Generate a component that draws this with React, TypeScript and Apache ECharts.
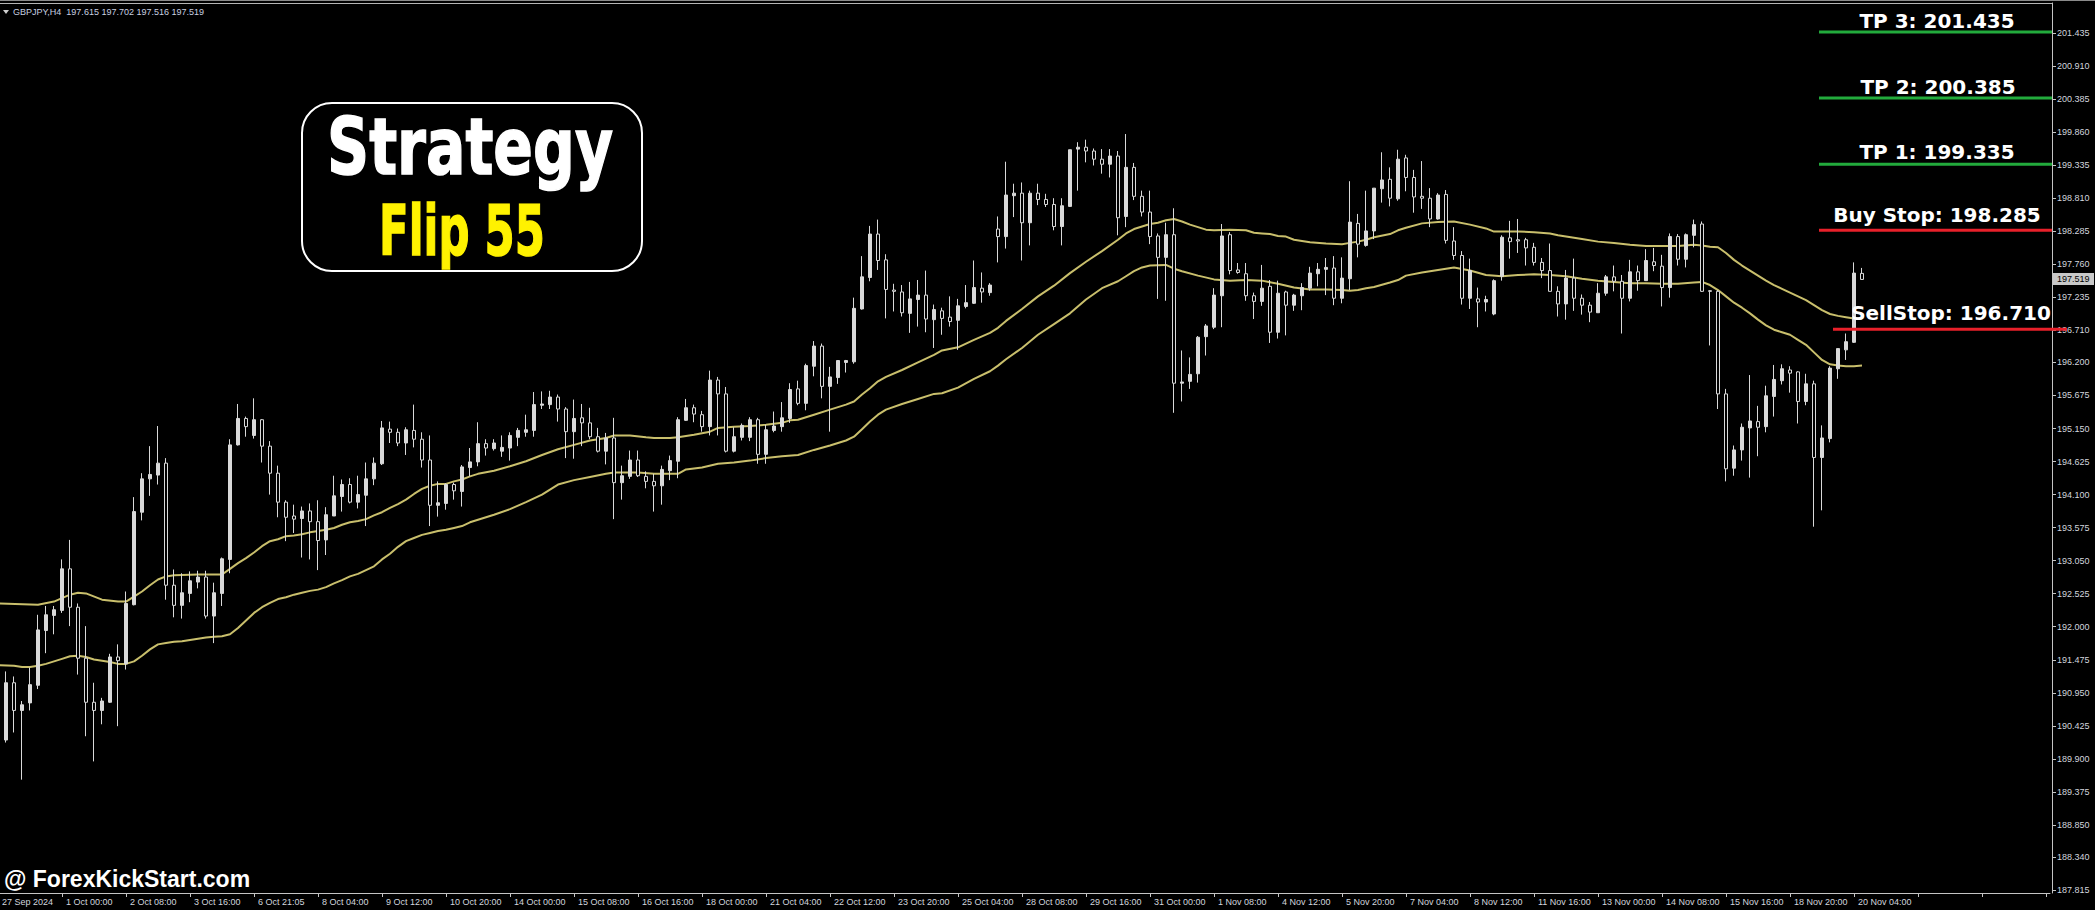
import React, { useEffect, useRef } from 'react';
import * as echarts from 'echarts';

const headerText = 'GBPJPY,H4  197.615 197.702 197.516 197.519';
const watermarkText = '@ ForexKickStart.com';
const titleLine1 = 'Strategy';
const titleLine2 = 'Flip 55';
const lastPrice = 197.519;

const xTickLabels = [
  '27 Sep 2024', '1 Oct 00:00', '2 Oct 08:00', '3 Oct 16:00', '6 Oct 21:05', '8 Oct 04:00',
  '9 Oct 12:00', '10 Oct 20:00', '14 Oct 00:00', '15 Oct 08:00', '16 Oct 16:00', '18 Oct 00:00',
  '21 Oct 04:00', '22 Oct 12:00', '23 Oct 20:00', '25 Oct 04:00', '28 Oct 08:00', '29 Oct 16:00',
  '31 Oct 00:00', '1 Nov 08:00', '4 Nov 12:00', '5 Nov 20:00', '7 Nov 04:00', '8 Nov 12:00',
  '11 Nov 16:00', '13 Nov 00:00', '14 Nov 08:00', '15 Nov 16:00', '18 Nov 20:00', '20 Nov 04:00',
];

const yTickValues = [
  201.435, 200.91, 200.385, 199.86, 199.335, 198.81, 198.285, 197.76, 197.235, 196.71, 196.2,
  195.675, 195.15, 194.625, 194.1, 193.575, 193.05, 192.525, 192.0, 191.475, 190.95, 190.425,
  189.9, 189.375, 188.85, 188.34, 187.815,
];

const levelNames = ['TP 3', 'TP 2', 'TP 1', 'Buy Stop', 'SellStop'];
const levelValues = [201.435, 200.385, 199.335, 198.285, 196.71];

// [open, high, low, close] per H4 bar
const ohlc: number[][] = [
  [190.10, 190.40, 189.95, 190.20], [190.20, 191.29, 190.16, 191.11], [191.11, 191.21, 190.32, 190.67],
  [190.67, 190.82, 189.57, 190.76], [190.79, 191.35, 190.67, 191.08], [191.07, 192.19, 191.01, 191.95],
  [191.94, 192.33, 191.58, 192.19], [192.18, 192.33, 191.88, 192.27], [192.26, 193.07, 192.22, 192.92],
  [192.92, 193.38, 192.01, 192.31], [192.31, 192.37, 191.24, 191.50], [191.50, 192.01, 190.26, 190.80],
  [190.80, 191.11, 189.86, 190.67], [190.67, 190.87, 190.45, 190.82], [190.80, 191.57, 190.79, 191.52],
  [191.52, 191.72, 190.42, 191.46], [191.41, 192.56, 191.32, 192.37], [192.35, 194.06, 192.34, 193.83],
  [193.82, 194.44, 193.69, 194.35], [194.35, 194.87, 194.08, 194.42], [194.41, 195.19, 194.26, 194.60],
  [194.60, 194.68, 192.43, 192.66], [192.66, 192.91, 192.15, 192.34], [192.34, 192.85, 192.13, 192.54],
  [192.53, 192.88, 192.39, 192.73], [192.71, 192.89, 192.61, 192.79], [192.79, 192.89, 192.13, 192.17],
  [192.17, 192.70, 191.74, 192.54], [192.53, 193.10, 192.33, 193.08], [193.07, 194.98, 192.85, 194.89],
  [194.89, 195.54, 194.88, 195.31], [195.31, 195.34, 195.02, 195.18], [195.04, 195.63, 194.99, 195.29],
  [195.29, 195.30, 194.61, 194.87], [194.87, 194.95, 194.10, 194.44], [194.44, 194.56, 193.74, 193.98],
  [193.98, 194.01, 193.36, 193.74], [193.76, 193.94, 193.49, 193.71], [193.72, 193.91, 193.10, 193.84],
  [193.84, 193.96, 193.07, 193.67], [193.67, 194.01, 192.90, 193.37], [193.38, 193.90, 193.14, 193.78],
  [193.76, 194.40, 193.76, 194.08], [194.07, 194.34, 193.83, 194.26], [194.26, 194.36, 193.96, 193.98],
  [193.98, 194.40, 193.88, 194.10], [194.09, 194.61, 193.60, 194.35], [194.35, 194.69, 194.25, 194.60],
  [194.59, 195.27, 194.57, 195.16], [195.14, 195.26, 194.92, 195.09], [195.09, 195.15, 194.87, 194.92],
  [194.92, 195.17, 194.73, 195.13], [195.12, 195.53, 194.85, 194.98], [194.98, 195.09, 194.53, 194.65],
  [194.65, 195.04, 193.60, 193.93], [193.93, 194.31, 193.75, 193.97], [193.96, 194.28, 193.86, 194.26],
  [194.26, 194.29, 194.02, 194.16], [194.15, 194.57, 193.91, 194.54], [194.53, 194.84, 194.39, 194.62],
  [194.62, 195.25, 194.55, 194.91], [194.91, 194.98, 194.72, 194.84], [194.83, 194.98, 194.80, 194.92],
  [194.79, 195.04, 194.70, 194.85], [194.84, 195.09, 194.64, 195.04], [195.01, 195.16, 194.87, 195.12],
  [195.09, 195.37, 195.02, 195.13], [195.12, 195.73, 195.02, 195.53], [195.52, 195.74, 195.46, 195.54],
  [195.53, 195.75, 195.46, 195.65], [195.65, 195.69, 195.26, 195.46], [195.46, 195.49, 194.68, 195.10],
  [195.10, 195.61, 194.67, 195.31], [195.32, 195.54, 194.87, 195.24], [195.24, 195.48, 194.98, 195.02],
  [195.02, 195.16, 194.77, 194.79], [194.79, 195.08, 194.58, 195.00], [195.00, 195.32, 193.71, 194.29],
  [194.29, 194.56, 194.02, 194.40], [194.39, 194.80, 194.35, 194.65], [194.65, 194.80, 194.38, 194.40],
  [194.39, 194.47, 194.20, 194.31], [194.31, 194.43, 193.83, 194.24], [194.24, 194.56, 193.94, 194.50],
  [194.48, 194.72, 194.33, 194.64], [194.63, 195.33, 194.36, 195.29], [195.28, 195.62, 195.27, 195.48],
  [195.48, 195.53, 195.25, 195.38], [195.37, 195.43, 195.10, 195.18], [195.18, 196.07, 195.04, 195.92],
  [195.92, 195.97, 195.04, 195.70], [195.70, 195.81, 194.77, 194.79], [194.79, 195.17, 194.77, 195.02],
  [195.01, 195.23, 194.96, 195.20], [195.01, 195.33, 194.95, 195.29], [195.29, 195.32, 194.59, 194.74],
  [194.74, 195.21, 194.59, 195.13], [195.12, 195.42, 195.09, 195.19], [195.18, 195.57, 195.10, 195.32],
  [195.31, 195.87, 195.24, 195.77], [195.78, 195.91, 195.52, 195.55], [195.55, 196.18, 195.44, 196.15],
  [196.14, 196.54, 195.98, 196.46], [196.46, 196.50, 195.63, 195.82], [195.82, 196.13, 195.10, 195.97],
  [195.96, 196.23, 195.86, 196.23], [196.20, 196.24, 196.04, 196.23], [196.21, 197.23, 196.18, 197.06],
  [197.05, 197.89, 197.04, 197.56], [197.55, 198.37, 197.49, 198.24], [198.24, 198.47, 197.67, 197.82],
  [197.83, 197.92, 196.90, 197.36], [197.35, 197.45, 197.01, 197.33], [197.32, 197.43, 196.93, 196.99],
  [196.98, 197.48, 196.67, 197.21], [197.20, 197.51, 196.77, 197.27], [197.27, 197.66, 196.68, 196.89],
  [196.88, 197.12, 196.43, 197.04], [197.02, 197.07, 196.64, 196.90], [196.92, 197.25, 196.77, 196.85],
  [196.87, 197.21, 196.40, 197.10], [197.09, 197.43, 197.06, 197.15], [197.14, 197.82, 197.13, 197.39],
  [197.38, 197.63, 197.15, 197.32], [197.31, 197.46, 197.26, 197.43], [198.32, 198.52, 197.79, 198.20],
  [198.20, 199.39, 198.01, 198.86], [198.85, 199.04, 198.51, 198.89], [198.89, 199.06, 197.82, 198.42],
  [198.42, 198.93, 198.06, 198.89], [198.89, 199.04, 198.70, 198.79], [198.79, 198.88, 198.67, 198.71],
  [198.71, 198.81, 198.30, 198.36], [198.36, 198.81, 198.06, 198.69], [198.68, 199.58, 198.67, 199.58],
  [199.59, 199.70, 198.93, 199.62], [199.62, 199.74, 199.38, 199.56], [199.56, 199.60, 199.33, 199.43],
  [199.43, 199.59, 199.20, 199.35], [199.35, 199.59, 199.14, 199.48], [199.48, 199.56, 198.22, 198.50],
  [198.52, 199.83, 198.35, 199.30], [199.30, 199.37, 198.78, 198.84], [198.84, 198.93, 198.52, 198.59],
  [198.59, 198.93, 198.08, 198.20], [198.21, 198.25, 197.21, 197.87], [197.87, 198.42, 197.18, 198.23],
  [198.23, 198.65, 195.40, 195.87], [195.87, 196.39, 195.58, 195.89], [195.90, 196.28, 195.78, 196.01],
  [196.02, 196.62, 195.88, 196.60], [196.61, 196.81, 196.31, 196.78], [196.76, 197.38, 196.73, 197.27],
  [197.26, 198.40, 196.76, 198.21], [198.23, 198.27, 197.60, 197.66], [197.67, 197.78, 197.61, 197.63],
  [197.61, 197.78, 197.18, 197.26], [197.26, 197.31, 196.89, 197.17], [197.17, 197.75, 197.10, 197.38],
  [197.41, 197.51, 196.51, 196.68], [196.68, 197.50, 196.58, 197.30], [197.32, 197.34, 196.63, 197.11],
  [197.11, 197.29, 197.02, 197.27], [197.26, 197.46, 197.03, 197.39], [197.38, 197.72, 197.34, 197.62],
  [197.61, 197.78, 197.41, 197.68], [197.68, 197.86, 197.27, 197.71], [197.70, 197.89, 197.11, 197.22],
  [197.22, 197.87, 197.14, 197.54], [197.53, 199.08, 197.35, 198.43], [198.41, 198.56, 197.87, 198.08],
  [198.06, 198.93, 198.04, 198.29], [198.29, 198.97, 198.16, 198.97], [198.96, 199.54, 198.74, 199.10],
  [199.11, 199.30, 198.68, 198.81], [198.80, 199.58, 198.77, 199.43], [199.45, 199.50, 198.92, 199.14],
  [199.14, 199.26, 198.58, 198.83], [198.84, 199.40, 198.64, 198.81], [198.81, 198.97, 198.35, 198.48],
  [198.48, 198.89, 198.47, 198.86], [198.87, 198.94, 198.09, 198.14], [198.13, 198.35, 197.83, 197.90],
  [197.90, 197.97, 197.12, 197.22], [197.22, 197.85, 197.05, 197.66], [197.21, 197.39, 196.76, 197.16],
  [197.16, 197.26, 197.01, 197.20], [196.97, 197.52, 196.95, 197.50], [197.57, 198.22, 197.50, 198.19],
  [198.18, 198.45, 197.85, 198.12], [198.15, 198.48, 197.94, 198.13], [198.15, 198.18, 197.74, 198.02],
  [198.03, 198.10, 197.74, 197.79], [197.79, 197.86, 197.54, 197.66], [197.66, 198.09, 197.33, 197.33],
  [197.33, 197.41, 196.93, 197.13], [197.13, 197.67, 196.88, 197.54], [197.54, 197.85, 197.02, 197.22],
  [197.22, 197.28, 196.96, 197.11], [197.11, 197.16, 196.84, 197.00], [196.99, 197.46, 196.99, 197.30],
  [197.30, 197.59, 197.26, 197.56], [197.56, 197.74, 197.33, 197.49], [197.49, 197.59, 196.66, 197.22],
  [197.22, 197.83, 197.17, 197.64], [197.64, 197.74, 197.34, 197.50], [197.50, 198.00, 197.50, 197.82],
  [197.80, 198.02, 197.65, 197.74], [197.73, 197.91, 197.09, 197.39], [197.39, 198.25, 197.23, 198.20],
  [198.20, 198.24, 197.74, 197.84], [197.84, 198.25, 197.71, 198.23], [198.22, 198.47, 198.03, 198.39],
  [198.40, 198.44, 197.32, 197.33], [197.34, 197.35, 196.47, 197.33], [197.33, 197.35, 195.46, 195.70],
  [195.70, 195.78, 194.31, 194.51], [194.52, 194.88, 194.40, 194.81], [194.81, 195.23, 194.64, 195.17],
  [195.16, 196.00, 194.37, 195.27], [195.26, 195.51, 194.71, 195.17], [195.18, 195.83, 195.09, 195.67],
  [195.66, 196.16, 195.34, 195.93], [195.91, 196.17, 195.85, 196.10], [196.08, 196.14, 195.72, 196.03],
  [196.05, 196.06, 195.23, 195.58], [195.58, 196.02, 195.52, 195.86], [195.86, 195.91, 193.59, 194.69],
  [194.69, 195.20, 193.85, 195.00], [194.99, 196.14, 194.93, 196.11], [196.10, 196.42, 195.94, 196.42],
  [196.40, 196.66, 196.24, 196.53], [196.52, 197.79, 196.51, 197.62], [197.615, 197.702, 197.516, 197.519],
];

const maUpper: number[][] = [
  [0, 192.37], [5, 192.35], [7, 192.40], [9, 192.51], [10, 192.54], [11, 192.53], [13, 192.43], [15, 192.40],
  [16, 192.40], [17, 192.48], [18, 192.56], [19, 192.66], [20, 192.75], [21, 192.80], [22, 192.82], [25, 192.83],
  [28, 192.83], [29, 192.92], [30, 193.01], [31, 193.09], [32, 193.18], [33, 193.28], [34, 193.36], [35, 193.39],
  [36, 193.44], [37, 193.45], [38, 193.47], [39, 193.50], [40, 193.52], [41, 193.54], [42, 193.57], [43, 193.62],
  [44, 193.66], [45, 193.68], [46, 193.71], [47, 193.77], [48, 193.82], [49, 193.89], [50, 193.95], [51, 194.02],
  [52, 194.11], [53, 194.19], [54, 194.24], [55, 194.27], [56, 194.27], [57, 194.31], [58, 194.34], [59, 194.39],
  [60, 194.43], [62, 194.48], [64, 194.55], [66, 194.63], [68, 194.73], [70, 194.82], [72, 194.89], [74, 194.96],
  [76, 195.00], [77, 195.04], [79, 195.04], [81, 195.01], [82, 195.00], [84, 195.00], [85, 195.01], [87, 195.05],
  [89, 195.10], [90, 195.16], [92, 195.18], [94, 195.19], [96, 195.21], [98, 195.24], [99, 195.28], [100, 195.29],
  [102, 195.37], [104, 195.45], [106, 195.53], [107, 195.58], [108, 195.69], [109, 195.79], [110, 195.90],
  [111, 195.97], [113, 196.08], [115, 196.20], [117, 196.32], [118, 196.39], [120, 196.44], [122, 196.56],
  [124, 196.67], [125, 196.75], [126, 196.86], [128, 197.05], [130, 197.25], [132, 197.42], [134, 197.62],
  [136, 197.80], [138, 197.97], [140, 198.15], [141, 198.25], [142, 198.32], [143, 198.36], [144, 198.40],
  [145, 198.42], [146, 198.46], [147, 198.48], [148, 198.44], [149, 198.39], [150, 198.35], [151, 198.31],
  [152, 198.30], [154, 198.31], [156, 198.30], [157, 198.26], [158, 198.25], [159, 198.24], [160, 198.21],
  [161, 198.20], [162, 198.15], [164, 198.11], [166, 198.09], [168, 198.08], [169, 198.10], [170, 198.12],
  [171, 198.15], [172, 198.19], [174, 198.24], [175, 198.30], [176, 198.34], [178, 198.41], [180, 198.43],
  [182, 198.44], [184, 198.39], [186, 198.33], [187, 198.28], [190, 198.28], [192, 198.27], [194, 198.25],
  [195, 198.22], [196, 198.20], [198, 198.16], [200, 198.12], [202, 198.10], [204, 198.07], [206, 198.05],
  [208, 198.05], [210, 198.05], [212, 198.07], [213, 198.06], [214, 198.04], [215, 198.03], [216, 197.94],
  [217, 197.83], [218, 197.74], [219, 197.66], [220, 197.58], [221, 197.50], [222, 197.43], [223, 197.37],
  [224, 197.31], [225, 197.25], [226, 197.19], [227, 197.11], [228, 197.03], [229, 196.97], [230, 196.94],
  [231, 196.92], [232, 196.90], [233, 196.90],
];

const maLower: number[][] = [
  [0, 191.39], [2, 191.38], [3, 191.36], [4, 191.36], [5, 191.38], [6, 191.41], [7, 191.45], [8, 191.49],
  [9, 191.53], [10, 191.54], [11, 191.52], [12, 191.48], [13, 191.46], [14, 191.44], [15, 191.41], [16, 191.41],
  [17, 191.45], [18, 191.54], [19, 191.64], [20, 191.72], [21, 191.74], [22, 191.76], [23, 191.77], [24, 191.79],
  [25, 191.81], [26, 191.83], [27, 191.84], [28, 191.85], [29, 191.88], [30, 191.98], [31, 192.10], [32, 192.22],
  [33, 192.31], [34, 192.38], [35, 192.44], [36, 192.47], [37, 192.51], [38, 192.54], [39, 192.57], [40, 192.59],
  [41, 192.63], [42, 192.69], [43, 192.74], [44, 192.80], [45, 192.84], [46, 192.90], [47, 192.96], [48, 193.07],
  [49, 193.16], [50, 193.27], [51, 193.36], [52, 193.41], [53, 193.46], [54, 193.49], [55, 193.52], [56, 193.54],
  [57, 193.57], [58, 193.60], [59, 193.66], [60, 193.70], [62, 193.78], [64, 193.87], [66, 193.98], [68, 194.10],
  [70, 194.26], [72, 194.33], [74, 194.38], [76, 194.43], [77, 194.45], [80, 194.45], [82, 194.43], [85, 194.43],
  [86, 194.50], [88, 194.53], [90, 194.59], [92, 194.61], [94, 194.64], [96, 194.68], [98, 194.71], [100, 194.73],
  [102, 194.81], [104, 194.88], [106, 194.96], [107, 195.02], [108, 195.14], [109, 195.26], [110, 195.37],
  [111, 195.45], [113, 195.54], [115, 195.62], [117, 195.70], [118, 195.71], [120, 195.80], [122, 195.94],
  [124, 196.06], [125, 196.15], [126, 196.25], [128, 196.43], [130, 196.64], [132, 196.81], [134, 196.98],
  [136, 197.20], [138, 197.38], [140, 197.49], [141, 197.57], [142, 197.65], [143, 197.71], [144, 197.74],
  [146, 197.75], [147, 197.69], [148, 197.65], [150, 197.58], [152, 197.52], [154, 197.50], [156, 197.51],
  [158, 197.50], [160, 197.45], [162, 197.39], [164, 197.36], [166, 197.36], [168, 197.35], [169, 197.34],
  [170, 197.35], [171, 197.38], [172, 197.40], [174, 197.47], [175, 197.51], [176, 197.58], [178, 197.63],
  [180, 197.67], [182, 197.71], [184, 197.66], [186, 197.59], [188, 197.57], [190, 197.59], [192, 197.60],
  [194, 197.59], [196, 197.57], [198, 197.53], [200, 197.50], [202, 197.48], [204, 197.46], [206, 197.46],
  [208, 197.45], [210, 197.45], [212, 197.47], [213, 197.48], [214, 197.43], [215, 197.35], [216, 197.25],
  [217, 197.15], [218, 197.07], [219, 196.98], [220, 196.88], [221, 196.79], [222, 196.72], [223, 196.68],
  [224, 196.64], [225, 196.56], [226, 196.48], [227, 196.36], [228, 196.24], [229, 196.17], [230, 196.15],
  [231, 196.14], [232, 196.14], [233, 196.15],
];

const SLOTS = 257; // bars + right-side chart shift

const AXIS_TEXT = '#d2d6de';
const AXIS_LINE = '#c4c4c4';
const CANDLE = '#d9d9d9';
const MA_COLOR = '#c9bf6c';
const GREEN = '#22aa3c';
const RED = '#e8202a';
const FONT_UI = '"Liberation Sans", Arial, sans-serif';
const FONT_BOLD = '"DejaVu Sans", Verdana, sans-serif';

export default function App() {
  const ref = useRef<HTMLDivElement>(null);

  useEffect(() => {
    document.body.style.margin = '0';
    document.body.style.background = '#000';
    if (!ref.current) return;
    const chart = echarts.init(ref.current, undefined, { renderer: 'svg' });

    const categories = Array.from({ length: SLOTS }, (_, i) => String(i));
    const candleData = ohlc.map(([o, h, l, c]) => [o, c, l, h]);

    const option: any = {
      animation: false,
      backgroundColor: '#000000',
      grid: {
        left: -6,
        top: 3,
        width: 2056,
        height: 890,
        containLabel: false,
        outerBoundsMode: 'none',
      },
      xAxis: {
        type: 'category',
        data: categories,
        boundaryGap: true,
        axisLine: { show: true, onZero: false, lineStyle: { color: AXIS_LINE, width: 1 } },
        axisTick: { show: true, alignWithLabel: true, interval: 7, length: 4, lineStyle: { color: AXIS_LINE } },
        axisLabel: {
          interval: 7,
          formatter: (_v: string, idx: number) => (idx % 8 === 0 ? xTickLabels[idx / 8] ?? '' : ''),
          color: AXIS_TEXT,
          fontSize: 9,
          fontFamily: FONT_UI,
          align: 'left',
          margin: 4,
          padding: [0, 0, 0, 4],
        },
        splitLine: { show: false },
      },
      yAxis: {
        type: 'value',
        position: 'right',
        offset: 2,
        min: 187.769,
        max: 201.912,
        axisLine: { show: true, lineStyle: { color: AXIS_LINE, width: 1 } },
        axisTick: { show: true, length: 4, customValues: yTickValues, lineStyle: { color: AXIS_LINE } },
        axisLabel: {
          customValues: yTickValues,
          formatter: (v: number) => v.toFixed(3),
          color: AXIS_TEXT,
          fontSize: 9,
          fontFamily: FONT_UI,
          margin: 5,
        },
        splitLine: { show: false },
      },
      series: [
        {
          type: 'candlestick',
          data: candleData,
          barWidth: 4,
          clip: true,
          itemStyle: {
            color: CANDLE,
            color0: '#000000',
            borderColor: CANDLE,
            borderColor0: CANDLE,
            borderColorDoji: CANDLE,
            borderWidth: 1,
          },
          z: 3,
        },
        {
          type: 'line',
          data: maUpper,
          showSymbol: false,
          symbol: 'none',
          silent: true,
          clip: true,
          lineStyle: { color: MA_COLOR, width: 2 },
          z: 2,
        },
        {
          type: 'line',
          data: maLower,
          showSymbol: false,
          symbol: 'none',
          silent: true,
          clip: true,
          lineStyle: { color: MA_COLOR, width: 2 },
          z: 2,
        },
      ],
    };

    chart.setOption(option);

    const yOf = (v: number) => chart.convertToPixel({ yAxisIndex: 0 }, v) as number;

    const elements: any[] = [
      { type: 'line', shape: { x1: 0, y1: 0.5, x2: 2095, y2: 0.5 }, style: { stroke: '#8a8a8a', lineWidth: 1 } },
      { type: 'line', shape: { x1: 0, y1: 3.5, x2: 2052, y2: 3.5 }, style: { stroke: '#b4b4b4', lineWidth: 1 } },
      { type: 'polygon', shape: { points: [[3, 10], [9, 10], [6, 14]] }, style: { fill: '#d0d0d0' } },
      {
        type: 'text', x: 13, y: 12,
        style: { text: headerText, fill: '#c8d0e0', fontSize: 9, fontFamily: FONT_UI, align: 'left', verticalAlign: 'middle', textAlign: 'left', textVerticalAlign: 'middle' },
      },
      {
        type: 'rect', shape: { x: 302, y: 103, width: 340, height: 168, r: 30 },
        style: { fill: '#000000', stroke: '#ffffff', lineWidth: 2 }, z: 10,
      },
      {
        type: 'text', x: 327, y: 147, scaleX: 0.75, z: 11,
        style: { text: titleLine1, fill: '#ffffff', stroke: '#ffffff', lineWidth: 1.5, fontSize: 78, fontWeight: 'bold', fontFamily: FONT_BOLD, align: 'left', verticalAlign: 'middle', textAlign: 'left', textVerticalAlign: 'middle' },
      },
      {
        type: 'text', x: 379, y: 231, scaleX: 0.62, z: 11,
        style: { text: titleLine2, fill: '#fff200', stroke: '#fff200', lineWidth: 1.5, fontSize: 70, fontWeight: 'bold', fontFamily: FONT_BOLD, align: 'left', verticalAlign: 'middle', textAlign: 'left', textVerticalAlign: 'middle' },
      },
      {
        type: 'text', x: 4, y: 879, z: 11,
        style: { text: watermarkText, fill: '#ffffff', fontSize: 23, fontWeight: 'bold', fontFamily: FONT_UI, align: 'left', verticalAlign: 'middle', textAlign: 'left', textVerticalAlign: 'middle' },
      },
    ];

    const lineX1 = [1819, 1819, 1819, 1819, 1833];
    const lineX2 = [2052, 2052, 2052, 2052, 2067];
    const labelCx = [1937, 1938, 1937, 1937, 1951];
    const labelDy = [-11, -11, -12, -15, -16];
    levelNames.forEach((name, k) => {
      const y = yOf(levelValues[k]) - 1;
      const color = k < 3 ? GREEN : RED;
      elements.push({
        type: 'line', z: 12,
        shape: { x1: lineX1[k], y1: y, x2: lineX2[k], y2: y },
        style: { stroke: color, lineWidth: 3 },
      });
      elements.push({
        type: 'text', x: labelCx[k], y: y + labelDy[k], z: 13,
        style: {
          text: `${name}: ${levelValues[k].toFixed(3)}`,
          fill: '#ffffff', fontSize: 20, fontWeight: 'bold', fontFamily: FONT_BOLD,
          align: 'center', verticalAlign: 'middle', textAlign: 'center', textVerticalAlign: 'middle',
        },
      });
    });

    const py = yOf(lastPrice);
    elements.push({
      type: 'rect', z: 14,
      shape: { x: 2053, y: Math.round(py) - 6, width: 41, height: 12 },
      style: { fill: '#c8c8c8' },
    });
    elements.push({
      type: 'text', x: 2057, y: Math.round(py), z: 15,
      style: { text: lastPrice.toFixed(3), fill: '#000000', fontSize: 9, fontFamily: FONT_UI, align: 'left', verticalAlign: 'middle', textAlign: 'left', textVerticalAlign: 'middle' },
    });

    chart.setOption({ graphic: { elements } });

    return () => {
      chart.dispose();
    };
  }, []);

  return <div ref={ref} style={{ width: 2095, height: 910, background: '#000' }} />;
}
